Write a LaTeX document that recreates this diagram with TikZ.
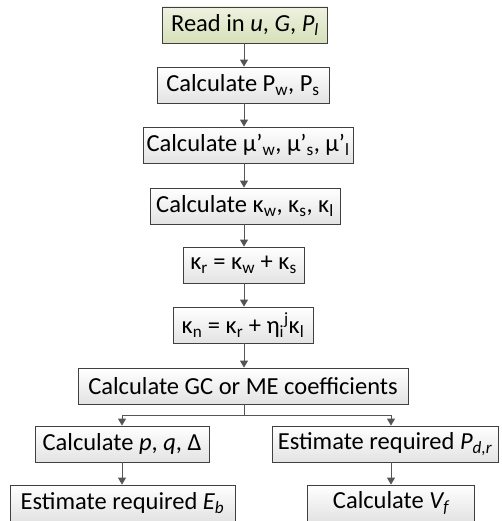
\documentclass[tikz,border=0pt]{standalone}
\usepackage{fontspec}
\setmainfont{Carlito}
\usetikzlibrary{arrows.meta}
\definecolor{boxline}{HTML}{404040}
\definecolor{arrline}{HTML}{555555}
\definecolor{greentop}{HTML}{EEF2E0}
\definecolor{greenbot}{HTML}{D6E0B9}
\tikzset{
  fbox/.style={draw=boxline, line width=0.8pt, top color=white, bottom color=gray!22,
    minimum height=36pt, inner sep=0pt, font=\fontsize{24.5}{28}\selectfont},
  startbox/.style={fbox, top color=greentop, bottom color=greenbot},
  arr/.style={draw=arrline, line width=0.9pt, -{Triangle[width=8pt,length=7pt]}},
  ln/.style={draw=arrline, line width=0.9pt}
}
\begin{document}
\begin{tikzpicture}[x=1pt,y=-1pt]
\useasboundingbox (0,0) rectangle (501,521);
\node[startbox, minimum width=165pt] (b1) at (245,25) {Read in \textit{u}, \textit{G}, \textit{P\textsubscript{l}}};
\node[fbox, minimum width=172pt] (b2) at (243,85) {Calculate P\textsubscript{w}, P\textsubscript{s}};
\node[fbox, minimum width=210pt] (b3) at (248,145) {Calculate μ’\textsubscript{w}, μ’\textsubscript{s}, μ’\textsubscript{l}};
\node[fbox, minimum width=190pt] (b4) at (245,206) {Calculate κ\textsubscript{w}, κ\textsubscript{s}, κ\textsubscript{l}};
\node[fbox, minimum width=121pt] (b5) at (243.5,265) {κ\textsubscript{r} = κ\textsubscript{w} + κ\textsubscript{s}};
\node[fbox, minimum width=140pt] (b6) at (243,325) {κ\textsubscript{n} = κ\textsubscript{r} + η\textsubscript{i}\textsuperscript{j}κ\textsubscript{l}};
\node[fbox, minimum width=330pt] (b7) at (243,386) {Calculate GC or ME coefficients};
\node[fbox, minimum width=174pt] (b8) at (122,444) {Calculate \textit{p}, \textit{q}, Δ};
\node[fbox, minimum width=226pt] (b9) at (385,444) {Estimate required \textit{P\textsubscript{d,r}}};
\node[fbox, minimum width=225pt] (b10) at (122.5,503) {Estimate required \textit{E\textsubscript{b}}};
\node[fbox, minimum width=167pt] (b11) at (391,503) {Calculate \textit{V\textsubscript{f}}};
\coordinate (split) at (244,415);
\coordinate (ax) at (244,0);
\draw[arr] (b1.south -| ax) -- (b2.north -| ax);
\draw[arr] (b2.south -| ax) -- (b3.north -| ax);
\draw[arr] (b3.south -| ax) -- (b4.north -| ax);
\draw[arr] (b4.south -| ax) -- (b5.north -| ax);
\draw[arr] (b5.south -| ax) -- (b6.north -| ax);
\draw[arr] (b6.south -| ax) -- (b7.north -| ax);
\draw[ln] (b7.south -| ax) -- (split);
\draw[arr] (split) -| (b8.north);
\draw[arr] (split) -| (b11.north |- b9.north);
\draw[arr] (b8.south) -- (b10.north -| b8.south);
\draw[arr] (b9.south -| b11.north) -- (b11.north);
\end{tikzpicture}
\end{document}
